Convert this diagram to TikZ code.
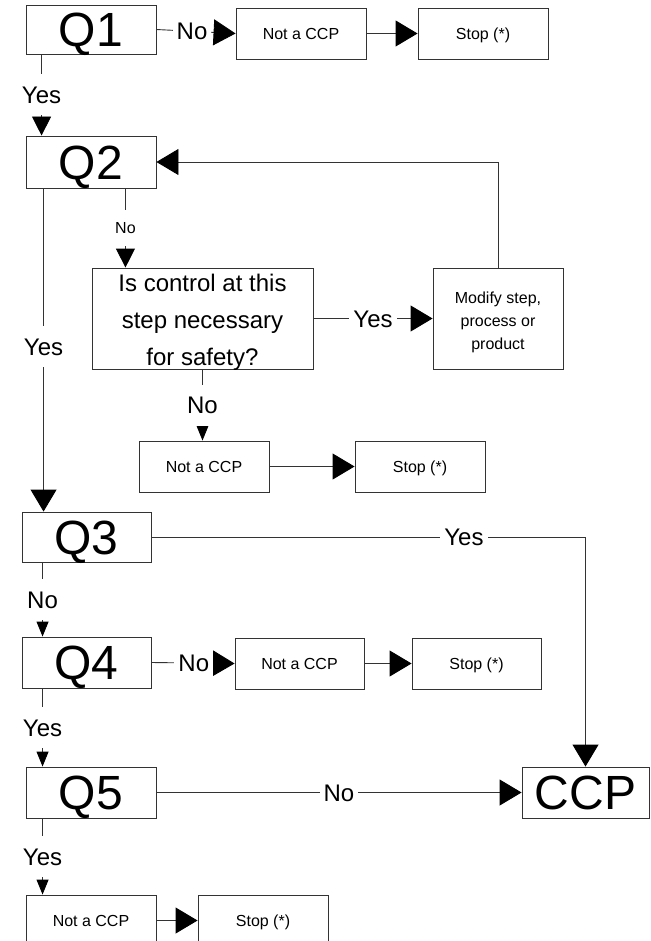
\documentclass[tikz,border=0pt]{standalone}
\usepackage{fontspec}
\setmainfont{Liberation Sans}
\usetikzlibrary{arrows.meta}

\begin{document}
\begin{tikzpicture}[x = 1pt, y = -1pt, box/.style = {draw = black!80, line width = 0.9pt, minimum width = 130pt, minimum height = 51pt, inner sep = 0pt, text height = 11.5pt, text depth = 0pt, font = \fontsize{16}{23}\selectfont}, tall/.style = {draw = black!80, line width = 0.9pt, minimum height = 101pt, inner sep = 0pt}, talltext/.style = {align = center, inner sep = 0pt, yshift = -3.5pt}, qbox/.style = {box, text height = 34.5pt, font = \fontsize{48}{48}\selectfont}, lbl/.style = {fill = white, inner xsep = 4pt, inner ysep = 12pt, text height = 17pt, text depth = 0pt, font = \fontsize{24}{24}\selectfont}, slbl/.style = {lbl, text height = 11.5pt, font = \fontsize{16}{16}\selectfont}, big/.style = {draw = black!80, line width = 0.9pt, -{Triangle[length = 22pt, width = 26pt, color = black]}}, mid/.style = {draw = black!80, line width = 0.9pt, -{Triangle[length = 19pt, width = 19pt, color = black]}}, small/.style = {draw = black!80, line width = 0.9pt, -{Triangle[length = 15pt, width = 12pt, color = black]}}]
	\clip (0, 0) rectangle (650, 941);
	\node[qbox, minimum height = 49pt] (q1) at (91, 29.5) {Q1};
	\node[box] (n1) at (301, 33.5) {Not a CCP};
	\node[box] (s1) at (483, 33.5) {Stop (*)};
	\node[qbox, minimum height = 52pt] (q2) at (91, 162) {Q2};
	\node[tall, minimum width = 221pt, label = {[talltext, font = \fontsize{24}{37}\selectfont]center:Is control at this\\step necessary\\for safety?}] (d) at (202.5, 318.5) {};
	\node[tall, minimum width = 130pt, label = {[talltext, font = \fontsize{16}{23}\selectfont]center:Modify step,\\process or\\product}] (m) at (498, 318.5) {};
	\node[box] (n2) at (204, 466.5) {Not a CCP};
	\node[box] (s2) at (420, 466.5) {Stop (*)};
	\node[qbox, minimum width = 129pt, minimum height = 50pt] (q3) at (86.5, 537) {Q3};
	\node[qbox, minimum width = 129pt] (q4) at (86.5, 662.5) {Q4};
	\node[box, minimum width = 129pt] (n3) at (299.5, 663.5) {Not a CCP};
	\node[box, minimum width = 129pt] (s3) at (476.5, 663.5) {Stop (*)};
	\node[qbox] (q5) at (91, 792.5) {Q5};
	\node[qbox, minimum width = 127pt] (ccp) at (585.5, 792.5) {CCP};
	\node[box] (n4) at (91, 920.5) {Not a CCP};
	\node[box] (s4) at (263, 920.5) {Stop (*)};
	\draw[big] (q1.east) -- node[lbl, pos = 0.45] {No} (n1.west);
	\draw[big] (n1) -- (s1);
	\draw[mid] ([xshift = 16pt]q1.south west) -- node[lbl] {Yes} ([xshift = 16pt]q2.north west);
	\draw[big] (m.north) |- (q2.east);
	\draw[mid] ([xshift = -31pt]q2.south east) -- node[slbl] {No} ([xshift = -31pt]q2.south east |- d.north);
	\draw[big] ([xshift = 18pt]q2.south west) -- node[lbl, pos = 0.49] {Yes} ([xshift = 18pt]q2.south west |- q3.north);
	\draw[big] (d) -- node[lbl] {Yes} (m);
	\draw[small] (d.south) -- node[lbl] {No} (d.south |- n2.north);
	\draw[big] (n2) -- (s2);
	\draw[big] (q3.east) -| node[lbl, pos = 0.36] {Yes} (ccp.north);
	\draw[small] ([xshift = 21pt]q3.south west) -- node[lbl] {No} ([xshift = 21pt]q4.north west);
	\draw[big] (q4.east) -- node[lbl, pos = 0.51] {No} (n3.west);
	\draw[big] (n3) -- (s3);
	\draw[small] ([xshift = 21pt]q4.south west) -- node[lbl] {Yes} ([xshift = 21pt]q4.south west |- q5.north);
	\draw[big] (q5) -- node[lbl] {No} (ccp);
	\draw[small] ([xshift = 17pt]q5.south west) -- node[lbl] {Yes} ([xshift = 17pt]q5.south west |- n4.north);
	\draw[big] (n4) -- (s4);
\end{tikzpicture}
\end{document}
